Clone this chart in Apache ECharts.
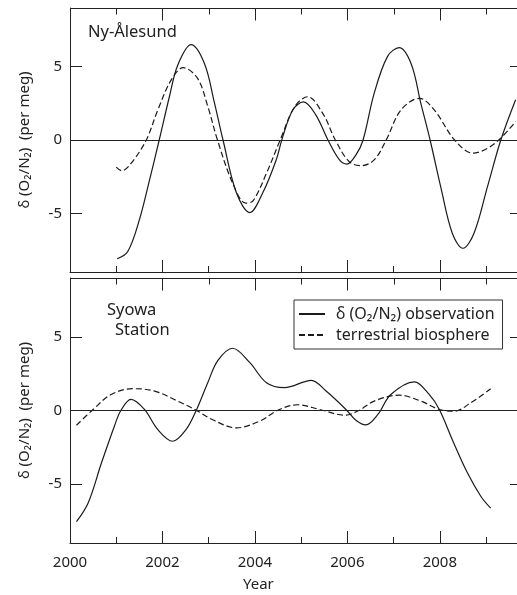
<!DOCTYPE html>
<html>
<head>
<meta charset="utf-8">
<script src="https://cdn.jsdelivr.net/npm/echarts@6/dist/echarts.min.js"></script>
<style>html,body{margin:0;padding:0;background:#fff}#c{width:517px;height:595px}</style>
</head>
<body>
<div id="c"></div>
<script>
// ---- data ----
var nyObsYears = [2001.02,2001.25,2001.5,2001.72,2001.93,2002.15,2002.33,2002.62,2002.91,2003.12,2003.31,2003.6,2003.89,2004.17,2004.46,2004.6,2004.82,2005.05,2005.32,2005.58,2005.83,2005.99,2006.19,2006.34,2006.58,2006.87,2007.12,2007.38,2007.59,2007.79,2008.02,2008.27,2008.5,2008.74,2009.03,2009.32,2009.64];
var nyObsValues = [-8.1,-7.6,-5.45,-2.73,0,2.95,5.1,6.5,5.2,2.6,0,-3.6,-4.95,-3.6,-1.36,0.2,2.05,2.6,1.7,0,-1.36,-1.64,-1.0,0,3.18,5.7,6.3,5.2,2.5,0,-3.2,-6.36,-7.38,-6.36,-3.2,0,2.75];
var nyBioYears = [2001.0,2001.12,2001.32,2001.65,2001.9,2002.19,2002.45,2002.76,2002.98,2003.19,2003.52,2003.8,2003.96,2004.25,2004.56,2004.86,2005.14,2005.47,2005.74,2006.04,2006.3,2006.58,2006.84,2007.16,2007.56,2007.88,2008.32,2008.72,2009.03,2009.31,2009.64];
var nyBioValues = [-1.85,-2.1,-1.6,0,2.05,4.1,4.93,4.2,2.3,0,-2.95,-4.3,-4.15,-2.27,0.1,2.27,2.95,1.8,0,-1.48,-1.75,-1.36,0,2.05,2.84,2.05,0,-0.9,-0.57,0.1,1.25];
var syObsYears = [2000.14,2000.39,2000.68,2000.96,2001.1,2001.32,2001.61,2001.9,2002.22,2002.51,2002.73,2002.98,2003.2,2003.52,2003.89,2004.25,2004.64,2005.22,2005.54,2005.97,2006.2,2006.4,2006.66,2006.94,2007.45,2007.77,2007.99,2008.27,2008.6,2008.89,2009.1];
var syObsValues = [-7.55,-6.3,-3.57,-1.07,0,0.75,0.07,-1.3,-2.09,-1.3,0,1.89,3.4,4.23,3.25,1.89,1.55,2.05,1.32,0.07,-0.7,-0.98,-0.27,1.09,1.95,1.09,0.07,-1.98,-4.25,-5.84,-6.63];
var syBioYears = [2000.14,2000.5,2000.89,2001.36,2001.83,2002.33,2002.73,2003.1,2003.6,2004.1,2004.53,2004.93,2005.4,2005.95,2006.25,2006.58,2007.12,2007.59,2007.99,2008.31,2008.67,2009.1];
var syBioValues = [-1.0,0.07,1.09,1.48,1.32,0.64,0.02,-0.65,-1.18,-0.73,0.07,0.39,0.07,-0.32,0.0,0.64,1.04,0.64,0.07,-0.05,0.52,1.48];
var majorYears = [2000,2002,2004,2006,2008];
var minorYears = [2001,2003,2005,2007,2009];
var yTicks = [-5,0,5];
var panelTitles = ['Ny-Ålesund','Syowa','Station'];
var seriesNames = ['δ (O₂/N₂) observation','terrestrial biosphere'];
var yName = 'δ (O₂/N₂)  (per meg)';
var xName = 'Year';

function pairs(xs, ys){ return xs.map(function(x,i){ return [x, ys[i]]; }); }

var FONT = 'Noto Sans';
var INK = '#222';
var XMIN = 2000, XMAX = 2009.67, YMIN = -9, YMAX = 9;
var MAJ = 12, MIN = 6;
var W = 517;

function xAx(grid, values, len, labels, line){
  return {
    type:'value', gridIndex:grid, position:'bottom', min:XMIN, max:XMAX,
    axisLine:{show:line, onZero:false, lineStyle:{color:INK, width:1}},
    axisTick:{show:true, inside:true, length:len, customValues:values, lineStyle:{color:INK, width:1}},
    axisLabel:{show:!!labels, customValues:values, color:INK, fontSize:15, fontFamily:FONT, margin:12,
      formatter:function(v){ return String(Math.round(v)); }},
    splitLine:{show:false}
  };
}
function yAx(grid, pos, len, labels, show){
  var a = {
    type:'value', gridIndex:grid, position:pos, min:YMIN, max:YMAX, show:show,
    axisLine:{show:true, onZero:false, lineStyle:{color:INK, width:1}},
    axisTick:{show:true, inside:true, length:len, customValues:yTicks, lineStyle:{color:INK, width:1}},
    axisLabel:{show:labels, customValues:yTicks, color:INK, fontSize:15, fontFamily:FONT, margin:8},
    splitLine:{show:false}
  };
  if (labels) {
    a.name = yName; a.nameLocation = 'middle'; a.nameGap = 38; a.nameRotate = 90;
    a.nameTextStyle = {color:INK, fontSize:15, fontFamily:FONT};
  }
  return a;
}

var zeroLine = {silent:true, symbol:['none','none'], label:{show:false},
  lineStyle:{color:INK, width:1, type:'solid'}, data:[{yAxis:0}]};

function lineSeries(name, data, xi, yi, dashed, withZero){
  var s = {
    name:name, type:'line', xAxisIndex:xi, yAxisIndex:yi, data:data,
    showSymbol:false, symbol:'none', smooth:0.35, silent:true,
    lineStyle:{color:'#1a1a1a', width:1.2, type: dashed ? [6,3] : 'solid'},
    itemStyle:{color:'#1a1a1a'}
  };
  if (withZero) s.markLine = zeroLine;
  return s;
}

var P1 = {left:70, right:-1, top:8, height:264};
var P2 = {left:70, right:-1, top:278, height:265};
function cp(o){ return Object.assign({}, o); }

var texts = [
  {type:'text', left:88, top:24, style:{text:panelTitles[0], fill:INK, font:'16.5px "Noto Sans"'}},
  {type:'text', left:107, top:302, style:{text:panelTitles[1], fill:INK, font:'16.5px "Noto Sans"'}},
  {type:'text', left:115, top:322, style:{text:panelTitles[2], fill:INK, font:'16.5px "Noto Sans"'}},
  {type:'text', left:243, top:577, style:{text:xName, fill:INK, font:'15px "Noto Sans"'}}
];

var chart = echarts.init(document.getElementById('c'), null, {renderer:'canvas'});
chart.setOption({
  animation:false,
  backgroundColor:'#fff',
  grid:[cp(P1), cp(P1), cp(P2), cp(P2)],
  xAxis:[
    xAx(0, majorYears, MAJ, false, true),
    xAx(1, minorYears, MIN, false, false),
    xAx(2, majorYears, MAJ, true, true),
    xAx(3, minorYears, MIN, false, false)
  ],
  yAxis:[
    yAx(0,'left',12,true,true), yAx(0,'right',7,false,true), yAx(1,'left',0,false,false),
    yAx(2,'left',12,true,true), yAx(2,'right',7,false,true), yAx(3,'left',0,false,false)
  ],
  legend:{
    orient:'vertical', left:294, top:300,
    data:seriesNames,
    borderColor:'#333', borderWidth:1, padding:[6,8,6,4],
    itemGap:5, itemWidth:26, itemHeight:14,
    itemStyle:{color:'rgba(0,0,0,0)', borderColor:'rgba(0,0,0,0)', borderWidth:0},
    textStyle:{color:INK, fontSize:16, fontFamily:FONT, padding:[0,0,0,6]},
    selectedMode:false
  },
  graphic:texts,
  series:[
    lineSeries('ny-obs', pairs(nyObsYears, nyObsValues), 0, 0, false, true),
    lineSeries('ny-bio', pairs(nyBioYears, nyBioValues), 0, 0, true, false),
    lineSeries(seriesNames[0], pairs(syObsYears, syObsValues), 2, 3, false, true),
    lineSeries(seriesNames[1], pairs(syBioYears, syBioValues), 2, 3, true, false)
  ]
});

// top frame edge and inward top ticks for each panel
function xPix(axisIndex, panel, yr){
  var v;
  try { v = chart.convertToPixel({xAxisIndex:axisIndex}, yr); } catch (e) { v = NaN; }
  if (typeof v !== 'number' || !isFinite(v)) {
    v = panel.left + (yr - XMIN) / (XMAX - XMIN) * (W + 1 - panel.left);
  }
  return v;
}
function seg(x1, y1, x2, y2){
  return {type:'line', silent:true, z:100, zlevel:0,
    shape:{x1:x1, y1:y1, x2:x2, y2:y2}, style:{stroke:INK, lineWidth:1}};
}
var frame = [];
[[0,P1],[2,P2]].forEach(function(item){
  var ai = item[0], panel = item[1];
  var yTop = panel.top + 0.5;
  frame.push(seg(panel.left, yTop, W + 1, yTop));
  majorYears.forEach(function(yr){
    var x = Math.round(xPix(ai, panel, yr)) + 0.5;
    frame.push(seg(x, yTop, x, yTop + MAJ));
  });
  minorYears.forEach(function(yr){
    var x = Math.round(xPix(ai, panel, yr)) + 0.5;
    frame.push(seg(x, yTop, x, yTop + MIN));
  });
});
chart.setOption({graphic: texts.concat(frame)});
</script>
</body>
</html>
